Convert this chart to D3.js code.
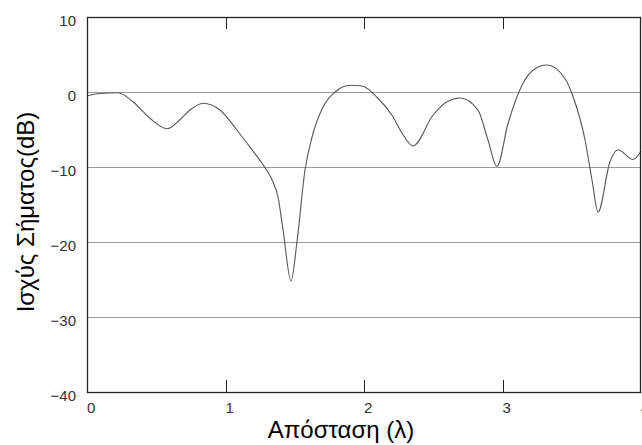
<!DOCTYPE html>
<meta charset="utf-8">
<style>
body { margin: 0; background: #fff; }
text { font-family: "Liberation Sans", Arial, sans-serif; }
.tick-label { font-size: 15px; fill: #333; }
.title { font-size: 24px; fill: #000; }
</style>
<svg width="642" height="445"></svg>
<script src="https://d3js.org/d3.v7.min.js"></script>
<script>

// distance in wavelengths, signal strength in dB
var distance = [0.00, 0.094, 0.224, 0.332, 0.455, 0.578, 0.671, 0.744, 0.838, 0.960,
                1.083, 1.191, 1.264, 1.307, 1.343, 1.379, 1.415, 1.473, 1.516, 1.574,
                1.625, 1.704, 1.791, 1.899, 1.986, 2.094, 2.202, 2.282, 2.354, 2.498,
                2.599, 2.693, 2.823, 2.895, 2.960, 3.040, 3.141, 3.220, 3.321, 3.451,
                3.509, 3.596, 3.646, 3.690, 3.776, 3.834, 3.942, 4.000];
var signal   = [-0.5, -0.2, -0.1, -1.3, -3.5, -4.9, -3.7, -2.4, -1.5, -2.4,
                -5.1, -7.7, -9.5, -10.7, -12.0, -14.0, -18.3, -25.2, -20.0, -10.4,
                -6.0, -2.0, 0.0, 0.9, 0.8, -0.7, -3.1, -5.7, -7.2, -3.1,
                -1.3, -0.8, -2.4, -6.4, -9.9, -4.2, 0.9, 2.9, 3.6, 1.8,
                -0.6, -6.4, -11.7, -16.0, -9.3, -7.7, -9.0, -7.9];

var xTicks = [0, 1, 2, 3, 4];
var yTicks = [10, 0, -10, -20, -30, -40];
var gridValues = [0, -10, -20, -30];

var svg = d3.select("svg"),
    margin = {top: 17, right: 1, bottom: 53, left: 87},
    width = +svg.attr("width") - margin.left - margin.right,
    height = +svg.attr("height") - margin.top - margin.bottom,
    g = svg.append("g").attr("transform", "translate(" + margin.left + "," + margin.top + ")");

var x = d3.scaleLinear().domain([0, 4]).range([0, width]);
var y = d3.scaleLinear().domain([-40, 10]).range([height, 0]);

var data = distance.map(function(d, i) { return {d: d, v: signal[i]}; });

// horizontal grid
g.append("g")
  .selectAll("line")
  .data(gridValues)
  .enter().append("line")
    .attr("x1", 0)
    .attr("x2", width)
    .attr("y1", function(d) { return y(d) + 0.5; })
    .attr("y2", function(d) { return y(d) + 0.5; })
    .attr("stroke", "#9a9a9a")
    .attr("stroke-width", 1);

// the curve
var line = d3.line()
    .x(function(d) { return x(d.d); })
    .y(function(d) { return y(d.v); })
    .curve(d3.curveMonotoneX);

g.append("path")
    .datum(data)
    .attr("fill", "none")
    .attr("stroke", "#5a5a5a")
    .attr("stroke-width", 1.15)
    .attr("d", line);

// frame
g.append("rect")
    .attr("x", 0.5)
    .attr("y", 0.5)
    .attr("width", width - 1)
    .attr("height", height)
    .attr("fill", "none")
    .attr("stroke", "#222")
    .attr("stroke-width", 1.3);

// inner ticks top and bottom
var inner = xTicks.slice(1, -1);
g.append("g").selectAll("line")
  .data(inner).enter().append("line")
    .attr("x1", function(d) { return Math.round(x(d)) + 0.5; })
    .attr("x2", function(d) { return Math.round(x(d)) + 0.5; })
    .attr("y1", height)
    .attr("y2", height - 12)
    .attr("stroke", "#222");
g.append("g").selectAll("line")
  .data(inner).enter().append("line")
    .attr("x1", function(d) { return Math.round(x(d)) + 0.5; })
    .attr("x2", function(d) { return Math.round(x(d)) + 0.5; })
    .attr("y1", 0)
    .attr("y2", 12)
    .attr("stroke", "#222");

// tick labels
g.append("g").selectAll("text")
  .data(xTicks).enter().append("text")
    .attr("class", "tick-label")
    .attr("x", function(d) { return x(d); })
    .attr("y", height + 21)
    .attr("text-anchor", "start")
    .text(function(d) { return d; });

g.append("g").selectAll("text")
  .data(yTicks).enter().append("text")
    .attr("class", "tick-label")
    .attr("x", -11)
    .attr("y", function(d) { return y(d) + 9; })
    .attr("text-anchor", "end")
    .text(function(d) { return d < 0 ? "\u2212" + Math.abs(d) : d; });

// axis titles
svg.append("text")
    .attr("class", "title")
    .attr("x", 341)
    .attr("y", 438)
    .attr("text-anchor", "middle")
    .text("Απόσταση (λ)");

svg.append("text")
    .attr("class", "title")
    .attr("transform", "translate(34,212) rotate(-90)")
    .attr("text-anchor", "middle")
    .text("Ισχύς Σήματος(dB)");

</script>
